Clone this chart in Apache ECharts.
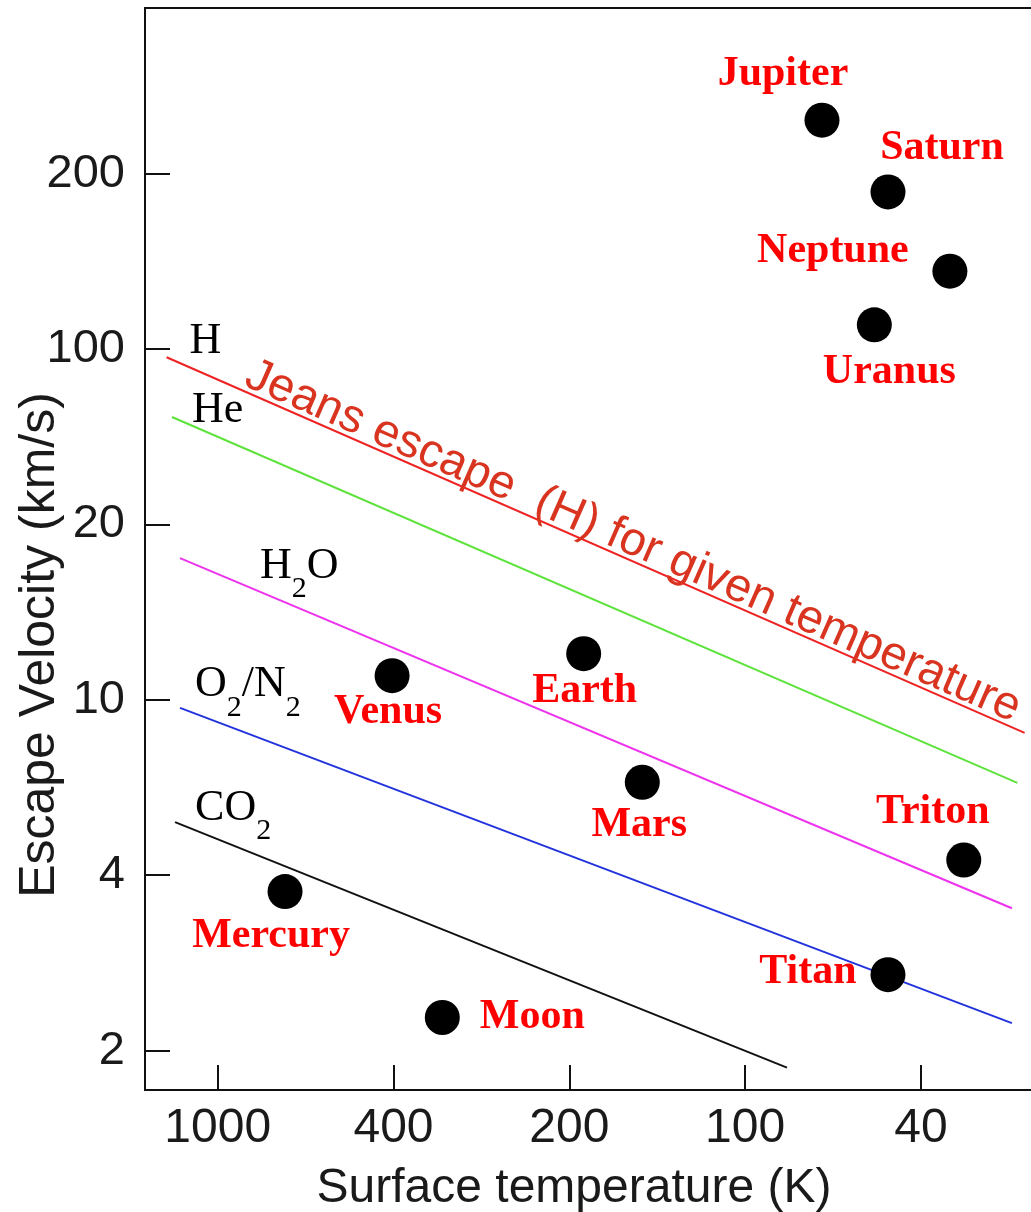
<!DOCTYPE html>
<html>
<head>
<meta charset="utf-8">
<script src="https://cdn.jsdelivr.net/npm/echarts@6/dist/echarts.min.js"></script>
<style>
html,body{margin:0;padding:0;background:#ffffff;}
#chart{width:1031px;height:1212px;}
</style>
</head>
<body>
<div id="chart"></div>
<script>
// ---------------- data ----------------
const tempTicks = [1000, 400, 200, 100, 40];          // x tick labels (K), evenly spaced on the original axis
const velTicks  = [2, 4, 10, 20, 100, 200];           // y tick labels (km/s), evenly spaced on the original axis

const bodies       = ['Mercury','Venus','Earth','Moon','Mars','Jupiter','Saturn','Titan','Uranus','Neptune','Triton'];
const bodyTempK    = [704, 403, 189, 330, 150, 67, 47.5, 47.5, 51, 34.4, 32];
const bodyVescKms  = [3.75, 11.0, 12.0, 2.28, 6.5, 247, 186, 2.7, 110, 136, 4.33];

const gases           = ['H', 'He', 'H2O', 'O2/N2', 'CO2'];
const gasStartTempK   = [1305, 1269, 1217, 1217, 1249];
const gasStartVescKms = [92.7, 53.6, 17.5, 9.59, 5.28];
const gasEndTempK     = [23.3, 24.2, 24.9, 24.9, 80.4];
const gasEndVescKms   = [8.41, 6.48, 3.51, 2.23, 1.87];

const jeansText = 'Jeans escape  (H) for given temperature';
const xTitle = 'Surface temperature (K)';
const yTitle = 'Escape Velocity (km/s)';

// ---------------- scale: the original axes place their labels at equal steps,
// values between labels are placed log-proportionally ----------------
function toSlot(v, ticks) {
  const L = ticks.map(Math.log10), lv = Math.log10(v), n = ticks.length;
  for (let i = 0; i < n - 1; i++) {
    const a = L[i], b = L[i + 1];
    if (lv >= Math.min(a, b) && lv <= Math.max(a, b)) return i + (lv - a) / (b - a);
  }
  const t0 = (lv - L[0]) / (L[1] - L[0]);
  if (t0 < 0) return t0;
  return (n - 1) + (lv - L[n - 1]) / (L[n - 1] - L[n - 2]);
}
const tSlot = v => toSlot(v, tempTicks);
const vSlot = v => toSlot(v, velTicks);

// ---------------- styles ----------------
const gasColors = ['#ee2222', '#5de33c', '#ee33ee', '#2233dd', '#111111'];
const gasLabelRich = { 'H': '{m|H}', 'He': '{m|He}', 'H2O': '{m|H}{s|2}{m|O}', 'O2/N2': '{m|O}{s|2}{m|/N}{s|2}', 'CO2': '{m|CO}{s|2}' };
const gasLabelOffset = { 'H': [23, -16], 'He': [20, -7], 'H2O': [80, 8], 'O2/N2': [15, -23], 'CO2': [20, -14] };
const bodyLabelOffset = {
  Mercury: [-14, 45], Venus: [-4, 36], Earth: [1, 37], Moon: [90, 0], Mars: [-3, 43],
  Jupiter: [-39, -46], Saturn: [54, -44], Titan: [-80, -3], Uranus: [15, 47], Neptune: [-117, -20], Triton: [-31, -48]
};
const sansFont = '"Liberation Sans", Arial, Helvetica, sans-serif';
const serifFont = '"Liberation Serif", "Times New Roman", serif';

const chart = echarts.init(document.getElementById('chart'), null, { renderer: 'canvas' });

const lineSeries = gases.map((g, i) => ({
  name: g,
  type: 'line',
  silent: true,
  showSymbol: false,
  z: 2,
  lineStyle: { color: gasColors[i], width: 2, opacity: 1 },
  data: [[tSlot(gasStartTempK[i]), vSlot(gasStartVescKms[i])], [tSlot(gasEndTempK[i]), vSlot(gasEndVescKms[i])]]
}));

const gasLabelSeries = {
  name: 'gasLabels',
  type: 'scatter',
  silent: true,
  symbolSize: 0,
  z: 3,
  itemStyle: { opacity: 1 },
  data: gases.map((g, i) => ({
    name: g,
    value: [tSlot(gasStartTempK[i]), vSlot(gasStartVescKms[i])],
    label: { formatter: gasLabelRich[g], offset: gasLabelOffset[g] }
  })),
  label: {
    show: true,
    position: 'inside',
    align: 'left',
    verticalAlign: 'middle',
    opacity: 1,
    rich: {
      m: { fontFamily: serifFont, fontSize: 44, color: '#000', lineHeight: 76, verticalAlign: 'middle' },
      s: { fontFamily: serifFont, fontSize: 30, color: '#000', lineHeight: 30, verticalAlign: 'bottom' }
    }
  }
};

const bodySeries = {
  name: 'bodies',
  type: 'scatter',
  silent: true,
  z: 5,
  symbol: 'circle',
  symbolSize: 35,
  itemStyle: { color: '#000', opacity: 1 },
  data: bodies.map((b, i) => ({
    name: b,
    value: [tSlot(bodyTempK[i]), vSlot(bodyVescKms[i])],
    label: { offset: bodyLabelOffset[b] }
  })),
  label: {
    show: true,
    position: 'inside',
    formatter: '{b}',
    color: '#ff0000',
    opacity: 1,
    fontFamily: serifFont,
    fontWeight: 'bold',
    fontSize: 42
  }
};

const tickIdxX = tempTicks.map((_, i) => i);
const tickIdxY = velTicks.map((_, i) => i);

chart.setOption({
  animation: false,
  backgroundColor: '#ffffff',
  grid: {
    left: 145, top: 8, right: -3, bottom: 122,
    containLabel: false, outerBoundsMode: 'none',
    show: true, borderColor: '#111', borderWidth: 2, backgroundColor: 'transparent'
  },
  xAxis: {
    type: 'value',
    min: -0.4135, max: 4.643,
    axisLine: { show: true, onZero: false, lineStyle: { color: '#111', width: 2 } },
    axisTick: { show: true, inside: true, length: 25, customValues: tickIdxX, lineStyle: { color: '#111', width: 2 } },
    axisLabel: {
      show: true, customValues: tickIdxX, margin: 15,
      formatter: v => String(tempTicks[Math.round(v)]),
      fontFamily: sansFont, fontSize: 48, color: '#1a1a1a'
    },
    splitLine: { show: false },
    name: xTitle,
    nameLocation: 'middle',
    nameGap: 75,
    nameMoveOverlap: false,
    nameTextStyle: { fontFamily: sansFont, fontSize: 48, color: '#1a1a1a', padding: [0, 31, 0, 0] }
  },
  yAxis: {
    type: 'value',
    min: -0.2245, max: 5.944,
    axisLine: { show: true, onZero: false, lineStyle: { color: '#111', width: 2 } },
    axisTick: { show: true, inside: true, length: 25, customValues: tickIdxY, lineStyle: { color: '#111', width: 2 } },
    axisLabel: {
      show: true, customValues: tickIdxY, margin: 20,
      formatter: v => String(velTicks[Math.round(v)]),
      fontFamily: sansFont, fontSize: 47, color: '#1a1a1a'
    },
    splitLine: { show: false },
    name: yTitle,
    nameLocation: 'middle',
    nameRotate: 90,
    nameGap: 80,
    nameMoveOverlap: false,
    nameTextStyle: { fontFamily: sansFont, fontSize: 50, color: '#1a1a1a', padding: [0, 192, 0, 0] }
  },
  series: [...lineSeries, gasLabelSeries, bodySeries]
});

// Annotation along the H line, anchored to the line's own pixel position
const hp0 = chart.convertToPixel({ gridIndex: 0 }, [tSlot(gasStartTempK[0]), vSlot(gasStartVescKms[0])]);
const hp1 = chart.convertToPixel({ gridIndex: 0 }, [tSlot(gasEndTempK[0]), vSlot(gasEndVescKms[0])]);
const ang = Math.atan2(hp1[1] - hp0[1], hp1[0] - hp0[0]);
const along = 0.535, perp = 18;
const jx = hp0[0] + (hp1[0] - hp0[0]) * along + Math.sin(ang) * perp;
const jy = hp0[1] + (hp1[1] - hp0[1]) * along - Math.cos(ang) * perp;
chart.setOption({
  graphic: [{
    type: 'text', x: jx, y: jy, rotation: -ang, z: 4, silent: true,
    style: {
      text: jeansText, fill: '#d93420',
      font: '47px ' + sansFont,
      align: 'center', verticalAlign: 'middle',
      textAlign: 'center', textVerticalAlign: 'middle'
    }
  }]
});
</script>
</body>
</html>
